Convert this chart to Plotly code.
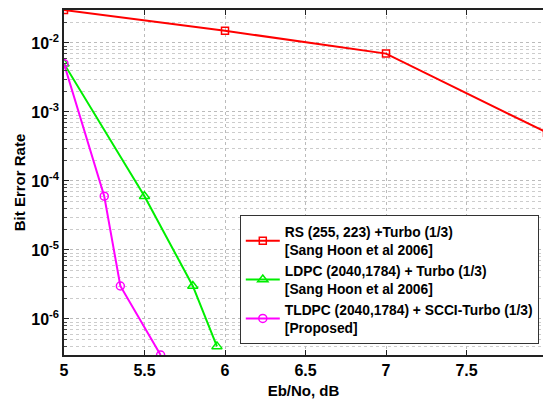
import numpy as np
import plotly.graph_objects as go

# Eb/No (dB) and BER for each coding scheme
rs_ebno = [5, 6, 7, 8]
rs_ber = [3e-2, 1.5e-2, 7e-3, 5e-4]

ldpc_ebno = [5, 5.5, 5.8, 5.95]
ldpc_ber = [5e-3, 6e-5, 3e-6, 4e-7]

tldpc_ebno = [5, 5.25, 5.35, 5.6]
tldpc_ber = [5e-3, 6e-5, 3e-6, 3e-7]

series_names = [
    "RS (255, 223) +Turbo (1/3)<br>[Sang Hoon et al 2006]",
    "LDPC (2040,1784) + Turbo (1/3)<br>[Sang Hoon et al 2006]",
    "TLDPC (2040,1784) + SCCI-Turbo (1/3)<br>[Proposed]",
]

x_ticks = [5, 5.5, 6, 6.5, 7, 7.5]
x_ticktext = ["5", "5.5", "6", "6.5", "7", "7.5"]
y_ticks = [1e-6, 1e-5, 1e-4, 1e-3, 1e-2]
y_ticktext = ["10<sup>-6</sup>", "10<sup>-5</sup>", "10<sup>-4</sup>", "10<sup>-3</sup>", "10<sup>-2</sup>"]

FONT = "Liberation Sans, Arial, sans-serif"

fig = go.Figure()
styles = [
    ("#ff0000", "square-open", 7),
    ("#00ee00", "triangle-up-open", 9),
    ("#ff00ff", "circle-open", 8),
]
for (xs, ys), name, (col, sym, msize) in zip(
    [(rs_ebno, rs_ber), (ldpc_ebno, ldpc_ber), (tldpc_ebno, tldpc_ber)],
    series_names, styles,
):
    fig.add_trace(go.Scatter(
        x=xs, y=ys, name=name, mode="lines+markers",
        line=dict(color=col, width=2),
        marker=dict(symbol=sym, size=msize, color=col, line=dict(color=col, width=1.5)),
        cliponaxis=True,
    ))

fig.update_layout(
    width=543, height=400,
    margin=dict(l=64, r=0, t=10, b=45),
    paper_bgcolor="white", plot_bgcolor="white",
    font=dict(family=FONT, size=14, color="black"),
    showlegend=True,
    legend=dict(
        x=0.367, y=0.405, xanchor="left", yanchor="top",
        bgcolor="white", bordercolor="#333333", borderwidth=1,
        font=dict(family=FONT, size=13.8, color="black", weight="bold"),
        tracegroupgap=1, itemwidth=34,
    ),
)

fig.update_xaxes(
    range=[5, 5 + 479 / 161], tickvals=x_ticks, ticktext=x_ticktext,
    showline=True, linecolor="#222222", linewidth=1.5, mirror="ticks",
    ticks="inside", ticklen=5, tickcolor="#222222",
    showgrid=True, gridcolor="#bbbbbb", griddash="dot", gridwidth=1,
    zeroline=False,
    title=dict(text="Eb/No, dB", font=dict(size=15, weight="bold"), standoff=8),
    tickfont=dict(size=16, weight="bold"),
)
fig.update_yaxes(
    type="log", range=[np.log10(3e-7), np.log10(3e-2)],
    tickvals=y_ticks, ticktext=y_ticktext,
    showline=True, linecolor="#222222", linewidth=1.5,
    ticks="inside", ticklen=5, tickcolor="#222222",
    showgrid=True, gridcolor="#bbbbbb", griddash="dot", gridwidth=1,
    minor=dict(showgrid=True, gridcolor="#cccccc", griddash="dot", gridwidth=1,
               ticks="inside", ticklen=3, tickcolor="#444444", dtick="D1"),
    zeroline=False,
    title=dict(text="Bit Error Rate", font=dict(size=15, weight="bold"), standoff=2),
    tickfont=dict(size=16, weight="bold"),
)

fig.write_html("out.html")
